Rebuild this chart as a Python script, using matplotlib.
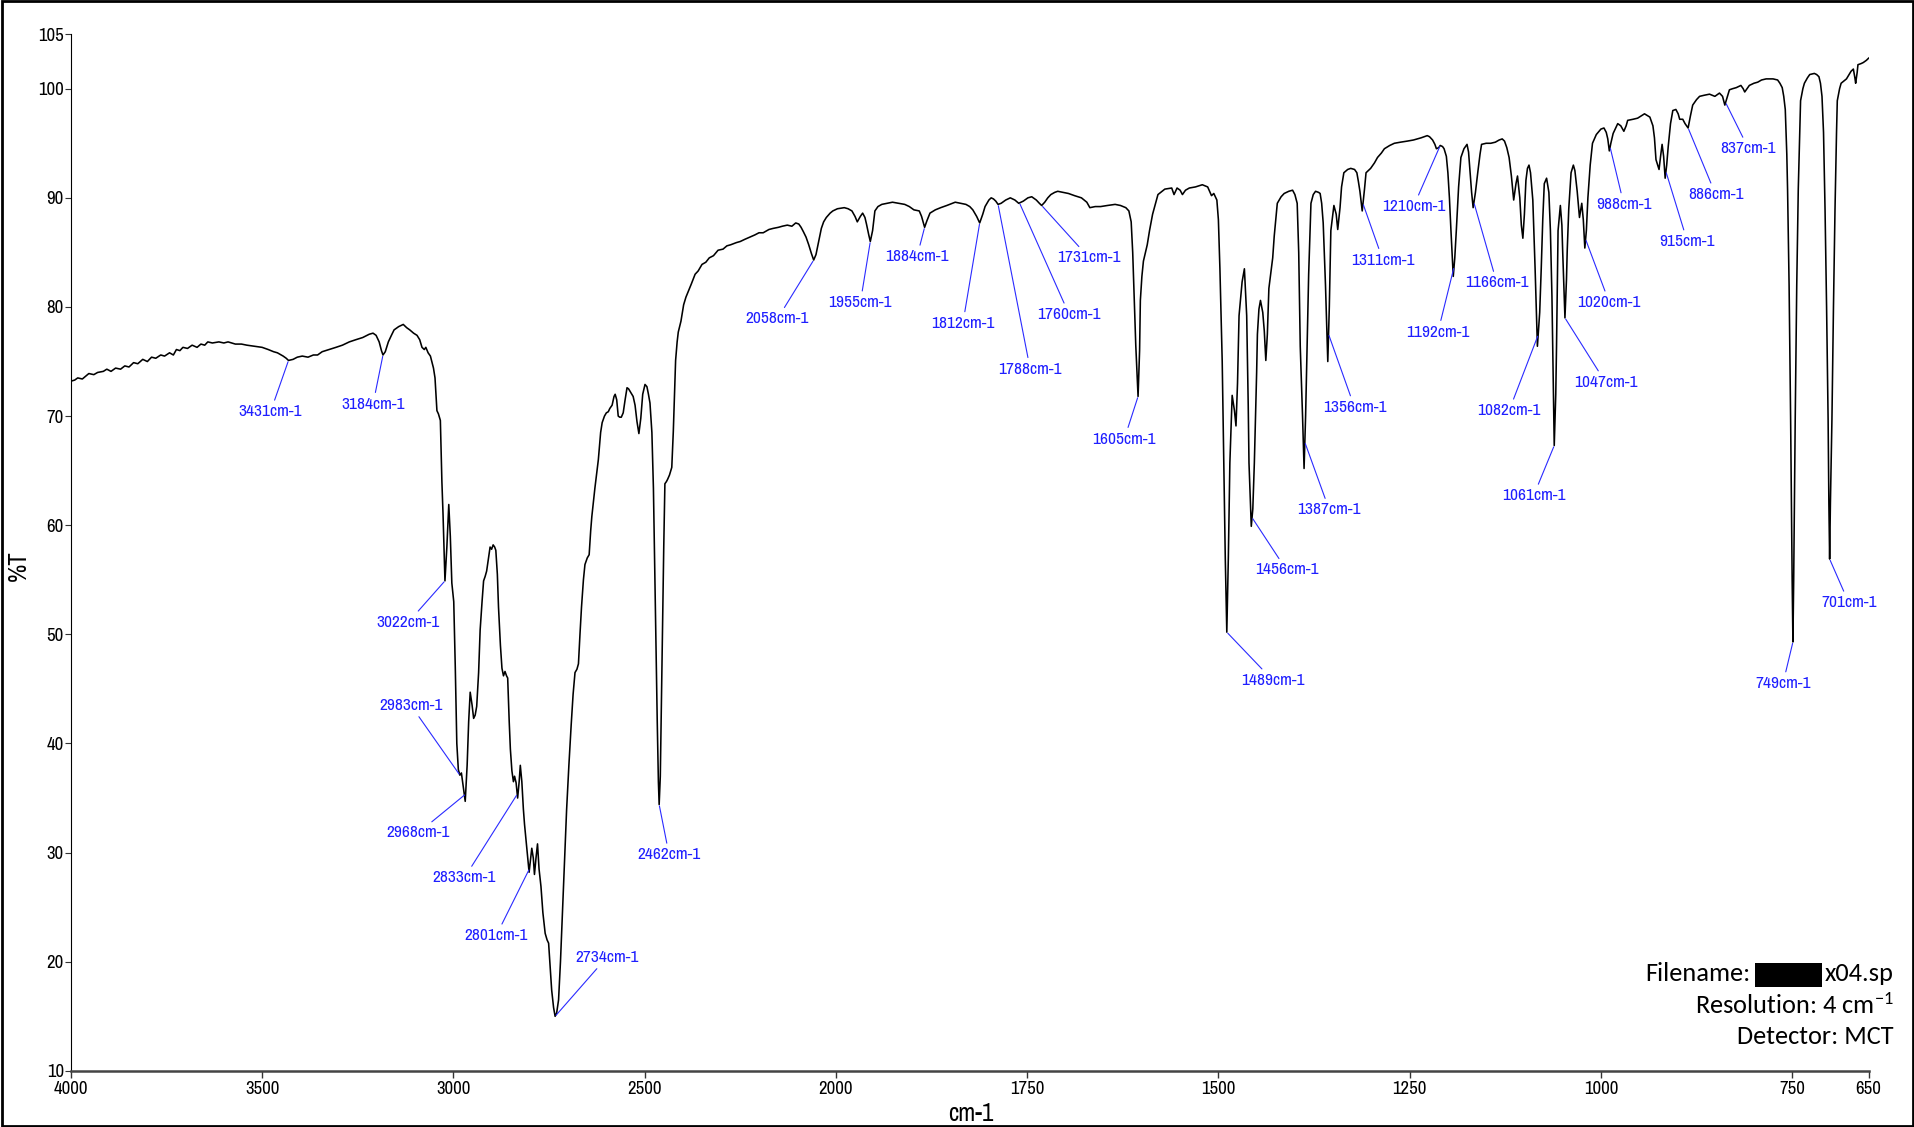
import numpy as np
import matplotlib
matplotlib.use('Agg')
import matplotlib.pyplot as plt
from matplotlib import font_manager
from matplotlib.patches import Rectangle

# ---------------- data ----------------
wavenumber = [
    4000, 3990, 3982, 3970, 3953, 3940, 3930, 3915, 3906, 3895, 3883, 3870, 3859, 3848, 3836, 3825,
    3812, 3800, 3789, 3778, 3765, 3755, 3742, 3732, 3724, 3715, 3707, 3695, 3683, 3670, 3660, 3650,
    3642, 3630, 3613, 3600, 3589, 3570, 3554, 3540, 3519, 3500, 3484, 3470, 3460, 3445, 3437, 3431,
    3419, 3408, 3395, 3380, 3366, 3355, 3343, 3325, 3307, 3290, 3272, 3255, 3237, 3220, 3210, 3202,
    3194, 3188, 3184, 3178, 3170, 3162, 3155, 3143, 3131, 3122, 3114, 3104, 3095, 3088, 3082, 3076,
    3072, 3066, 3060, 3052, 3048, 3043, 3039, 3034, 3030, 3027, 3022, 3017, 3012, 3008, 3004, 2999,
    2995, 2991, 2987, 2983, 2979, 2974, 2969, 2964, 2960, 2956, 2951, 2947, 2943, 2939, 2934, 2930,
    2925, 2921, 2917, 2913, 2908, 2904, 2900, 2896, 2892, 2889, 2885, 2882, 2877, 2873, 2869, 2865,
    2861, 2858, 2854, 2851, 2847, 2843, 2840, 2836, 2832, 2828, 2825, 2821, 2817, 2814, 2808, 2802,
    2798, 2795, 2791, 2788, 2784, 2780, 2776, 2771, 2766, 2760, 2755, 2751, 2747, 2743, 2738, 2734,
    2730, 2725, 2720, 2715, 2710, 2704, 2698, 2692, 2687, 2682, 2677, 2673, 2669, 2665, 2660, 2656,
    2650, 2645, 2641, 2638, 2630, 2621, 2615, 2611, 2605, 2600, 2595, 2591, 2585, 2580, 2577, 2573,
    2569, 2565, 2561, 2556, 2551, 2546, 2542, 2537, 2530, 2525, 2520, 2515, 2510, 2505, 2499, 2494,
    2490, 2486, 2481, 2477, 2474, 2471, 2467, 2464, 2462, 2459, 2456, 2453, 2450, 2447, 2443, 2440,
    2435, 2429, 2425, 2422, 2419, 2415, 2412, 2405, 2398, 2392, 2385, 2378, 2368, 2360, 2350, 2340,
    2331, 2320, 2308, 2295, 2285, 2275, 2260, 2250, 2238, 2225, 2212, 2201, 2190, 2175, 2164, 2150,
    2140, 2127, 2115, 2105, 2097, 2091, 2085, 2078, 2071, 2064, 2058, 2052, 2045, 2038, 2032, 2025,
    2015, 2008, 1998, 1989, 1984, 1979, 1975, 1972, 1968, 1965, 1962, 1960, 1957, 1955, 1952, 1949,
    1945, 1940, 1933, 1926, 1918, 1910, 1904, 1898, 1891, 1888, 1884, 1881, 1877, 1870, 1863, 1855,
    1844, 1837, 1830, 1825, 1821, 1816, 1812, 1808, 1805, 1800, 1797, 1794, 1791, 1788, 1784, 1778,
    1772, 1766, 1761, 1755, 1749, 1744, 1738, 1734, 1731, 1727, 1723, 1719, 1714, 1710, 1703, 1696,
    1688, 1679, 1672, 1668, 1661, 1654, 1645, 1635, 1628, 1621, 1617, 1614, 1612, 1610, 1608, 1605,
    1603, 1602, 1600, 1598, 1593, 1590, 1586, 1579, 1570, 1561, 1558, 1554, 1550, 1547, 1543, 1538,
    1530, 1521, 1514, 1509, 1506, 1502, 1500, 1498, 1495, 1493, 1491, 1489, 1487, 1485, 1482, 1479,
    1477, 1475, 1473, 1469, 1466, 1463, 1461, 1460, 1457, 1455, 1453, 1450, 1449, 1447, 1445, 1442,
    1440, 1438, 1436, 1434, 1429, 1427, 1423, 1418, 1414, 1408, 1403, 1400, 1397, 1395, 1393, 1390,
    1388, 1386, 1384, 1382, 1379, 1376, 1373, 1369, 1367, 1365, 1363, 1360, 1357, 1355, 1353, 1349,
    1346, 1344, 1341, 1339, 1336, 1331, 1327, 1322, 1319, 1317, 1315, 1312, 1309, 1307, 1304, 1301,
    1296, 1292, 1287, 1283, 1276, 1270, 1262, 1253, 1245, 1235, 1231, 1227, 1224, 1220, 1217, 1215,
    1212, 1210, 1207, 1205, 1202, 1200, 1198, 1196, 1193, 1191, 1189, 1186, 1183, 1179, 1175, 1173,
    1171, 1169, 1167, 1164, 1161, 1158, 1156, 1150, 1144, 1138, 1133, 1129, 1126, 1123, 1120, 1117,
    1114, 1111, 1109, 1106, 1104, 1102, 1100, 1098, 1096, 1094, 1092, 1089, 1086, 1083, 1080, 1078,
    1076, 1074, 1071, 1068, 1066, 1064, 1063, 1061, 1059, 1058, 1056, 1053, 1051, 1050, 1047, 1045,
    1044, 1042, 1039, 1036, 1034, 1031, 1028, 1025, 1023, 1021, 1019, 1017, 1014, 1011, 1006, 1000,
    996, 993, 991, 989, 987, 984, 978, 974, 970, 967, 965, 958, 952, 943, 936, 932,
    930, 928, 924, 922, 920, 918, 916, 914, 912, 909, 906, 902, 899, 897, 893, 890,
    886, 883, 880, 875, 871, 865, 858, 851, 845, 841, 838, 835, 832, 828, 823, 817,
    814, 812, 809, 806, 800, 795, 790, 784, 775, 769, 766, 763, 761, 759, 757, 756,
    754, 752, 750, 749, 748, 746, 744, 742, 740, 739, 736, 734, 730, 727, 721, 718,
    715, 713, 711, 709, 707, 705, 703, 702, 701, 700, 698, 696, 694, 692, 691, 688,
    686, 679, 673, 670, 668, 667, 665, 664, 660, 657, 653, 650,
]
transmittance = [
    73.2, 73.3, 73.5, 73.4, 73.9, 73.8, 74.0, 74.1, 74.3, 74.1, 74.4, 74.3, 74.6, 74.5, 74.9, 74.8,
    75.2, 75.0, 75.4, 75.3, 75.6, 75.5, 75.8, 75.6, 76.1, 76.0, 76.3, 76.2, 76.5, 76.3, 76.6, 76.5,
    76.8, 76.7, 76.8, 76.7, 76.8, 76.6, 76.6, 76.5, 76.4, 76.3, 76.1, 75.9, 75.8, 75.5, 75.3, 75.1,
    75.2, 75.4, 75.5, 75.4, 75.6, 75.6, 75.9, 76.1, 76.3, 76.5, 76.8, 77.0, 77.2, 77.5, 77.6, 77.4,
    76.8, 76.0, 75.6, 75.9, 76.8, 77.4, 77.9, 78.2, 78.4, 78.1, 77.9, 77.6, 77.4, 77.0, 76.3, 76.1,
    76.3, 75.8, 75.5, 74.4, 73.5, 70.5, 70.2, 69.6, 64.0, 61.0, 54.9, 58.0, 61.9, 59.0, 54.7, 53.0,
    47.0, 40.0, 37.6, 37.1, 37.3, 36.0, 34.7, 38.0, 42.0, 44.7, 43.5, 42.3, 42.6, 43.4, 46.5, 50.4,
    53.0, 54.9, 55.3, 55.8, 57.0, 58.0, 57.8, 58.2, 58.0, 57.7, 55.5, 52.5, 49.0, 46.9, 46.2, 46.6,
    46.2, 46.0, 42.0, 39.5, 37.5, 36.5, 37.0, 36.4, 35.0, 36.5, 38.0, 36.5, 34.0, 32.6, 30.4, 28.2,
    29.5, 30.4, 29.5, 28.0, 29.5, 30.8, 28.5, 26.9, 24.5, 22.6, 22.0, 21.7, 19.5, 17.4, 15.8, 15.0,
    15.3, 16.5, 20.0, 24.3, 28.5, 33.9, 38.0, 41.7, 44.5, 46.5, 46.8, 47.3, 50.0, 52.5, 55.0, 56.4,
    57.0, 57.3, 59.5, 60.8, 63.4, 66.0, 68.5, 69.4, 70.0, 70.3, 70.4, 70.7, 71.0, 71.8, 72.0, 71.5,
    70.0, 69.9, 69.9, 70.3, 71.5, 72.6, 72.5, 72.2, 71.8, 71.0, 69.5, 68.4, 69.8, 72.0, 72.9, 72.7,
    72.0, 71.2, 68.5, 63.4, 57.0, 50.4, 42.0, 36.5, 34.4, 37.0, 44.0, 50.4, 58.0, 63.8, 64.0, 64.2,
    64.6, 65.3, 68.6, 72.0, 75.1, 76.8, 77.7, 78.7, 80.2, 80.9, 81.5, 82.1, 83.0, 83.3, 83.9, 84.1,
    84.5, 84.7, 85.2, 85.3, 85.6, 85.7, 85.9, 86.0, 86.2, 86.4, 86.6, 86.8, 86.8, 87.1, 87.2, 87.3,
    87.4, 87.5, 87.4, 87.7, 87.6, 87.3, 86.9, 86.4, 85.7, 84.9, 84.3, 84.8, 86.0, 87.2, 87.8, 88.2,
    88.6, 88.8, 89.0, 89.1, 89.0, 88.8, 88.3, 87.8, 88.3, 88.6, 88.2, 87.6, 86.6, 86.0, 87.0, 88.8,
    89.2, 89.4, 89.5, 89.6, 89.5, 89.4, 89.2, 88.9, 88.8, 88.3, 87.3, 87.9, 88.6, 88.9, 89.1, 89.3,
    89.6, 89.5, 89.4, 89.2, 88.9, 88.3, 87.7, 88.5, 89.2, 89.8, 90.0, 89.9, 89.7, 89.4, 89.5, 89.8,
    90.0, 89.8, 89.5, 89.7, 90.0, 90.1, 89.8, 89.5, 89.3, 89.6, 90.0, 90.3, 90.5, 90.6, 90.5, 90.4,
    90.2, 90.0, 89.6, 89.1, 89.2, 89.2, 89.3, 89.4, 89.3, 89.1, 88.8, 87.8, 85.0, 80.6, 76.5, 71.8,
    76.0, 80.6, 82.8, 84.2, 85.7, 87.0, 88.5, 90.3, 90.8, 90.9, 90.3, 90.9, 90.7, 90.3, 90.7, 90.9,
    91.0, 91.2, 91.0, 90.2, 90.4, 89.8, 88.0, 83.5, 75.0, 65.7, 57.0, 50.2, 57.0, 65.7, 71.9, 70.5,
    69.1, 73.0, 79.2, 82.3, 83.5, 79.2, 71.0, 65.7, 59.9, 61.5, 65.7, 74.0, 77.5, 79.8, 80.6, 79.5,
    77.8, 75.1, 77.5, 81.7, 84.5, 86.5, 89.5, 90.1, 90.4, 90.6, 90.7, 90.3, 89.5, 85.0, 76.4, 70.0,
    65.2, 70.0, 76.4, 83.0, 89.5, 90.3, 90.6, 90.5, 90.4, 89.5, 87.7, 82.0, 75.0, 80.0, 87.0, 89.3,
    88.5, 87.1, 89.1, 91.0, 92.3, 92.6, 92.7, 92.6, 92.3, 91.5, 90.6, 88.8, 90.8, 92.3, 92.5, 92.7,
    93.2, 93.7, 94.1, 94.5, 94.8, 95.0, 95.1, 95.2, 95.3, 95.5, 95.6, 95.7, 95.6, 95.3, 94.9, 94.5,
    94.6, 94.8, 94.7, 94.5, 93.8, 92.3, 90.0, 87.0, 82.8, 84.5, 87.0, 91.0, 93.7, 94.5, 94.9, 94.2,
    92.3, 90.5, 89.1, 90.5, 92.3, 94.0, 94.9, 95.0, 95.0, 95.1, 95.3, 95.4, 95.2, 94.6, 93.7, 92.0,
    89.8, 91.3, 92.0, 90.0, 87.5, 86.3, 88.5, 91.6, 92.7, 93.0, 92.3, 89.8, 83.5, 76.4, 79.5, 83.5,
    88.0, 91.3, 91.8, 90.5, 87.0, 81.0, 76.4, 67.3, 72.0, 76.4, 87.0, 89.3, 87.5, 85.2, 79.0, 82.5,
    85.2, 89.0, 92.3, 93.0, 92.5, 90.6, 88.2, 89.5, 88.0, 85.4, 87.0, 90.0, 93.0, 95.0, 95.8, 96.3,
    96.4, 96.0, 95.4, 94.3, 95.0, 95.9, 96.8, 96.6, 96.1, 96.6, 97.1, 97.2, 97.3, 97.7, 97.4, 96.6,
    95.5, 93.5, 92.6, 93.8, 94.9, 93.8, 91.8, 93.0, 94.7, 96.8, 98.0, 98.1, 97.7, 97.2, 97.2, 96.8,
    96.4, 97.5, 98.5, 99.0, 99.3, 99.4, 99.5, 99.3, 99.6, 99.3, 98.5, 99.2, 99.9, 100.0, 100.1, 100.3,
    100.0, 99.7, 100.0, 100.3, 100.5, 100.6, 100.8, 100.9, 100.9, 100.8, 100.5, 100.1, 99.3, 98.1, 94.0, 90.8,
    82.0, 69.7, 55.0, 49.3, 55.0, 69.7, 82.0, 90.8, 96.0, 98.9, 100.0, 100.5, 101.0, 101.3, 101.4, 101.3,
    101.1, 100.5, 99.3, 96.0, 88.9, 80.0, 69.7, 62.0, 56.9, 62.0, 69.7, 80.0, 88.9, 96.0, 98.9, 100.0,
    100.5, 100.9, 101.6, 101.8, 101.0, 100.5, 101.5, 102.2, 102.3, 102.4, 102.6, 102.8,
]

peak_labels = [3431, 3184, 3022, 2983, 2968, 2833, 2801, 2734, 2462, 2058, 1955, 1884, 1812,
               1788, 1760, 1731, 1605, 1489, 1456, 1387, 1356, 1311, 1210, 1192, 1166, 1082,
               1061, 1047, 1020, 988, 915, 886, 837, 749, 701]
label_text_wn = [3478, 3210, 3118, 3111, 3092, 2971, 2888, 2599, 2436, 2153, 1968, 1894, 1834,
                 1746, 1695, 1669, 1623, 1429, 1411, 1355, 1322, 1285, 1245, 1213, 1136, 1120,
                 1088, 994, 989, 970, 887, 850, 807, 762, 676]
label_text_t = [70.4, 71.1, 51.1, 43.5, 31.8, 27.7, 22.4, 20.4, 29.8, 78.9, 80.4, 84.6, 78.5,
                74.3, 79.3, 84.5, 67.9, 45.8, 55.9, 61.4, 70.8, 84.3, 89.2, 77.7, 82.2, 70.5,
                62.7, 73.1, 80.4, 89.4, 86.0, 90.3, 94.5, 45.5, 52.9]

x_ticks = [4000, 3500, 3000, 2500, 2000, 1750, 1500, 1250, 1000, 750, 650]
y_ticks = [10, 20, 30, 40, 50, 60, 70, 80, 90, 100, 105]

# ---------------- fonts ----------------
avail = {f.name for f in font_manager.fontManager.ttflist}

def pick(cands, default):
    for c in cands:
        if c in avail:
            return c
    return default

narrow = pick(['Liberation Sans Narrow', 'Arial Narrow', 'Archivo Narrow', 'Roboto Condensed'],
              'Liberation Sans')
calib = pick(['Carlito', 'Calibri', 'Lato'], 'DejaVu Sans')
plt.rcParams['font.family'] = [narrow, 'DejaVu Sans']
plt.rcParams['mathtext.fontset'] = 'custom'
plt.rcParams['mathtext.rm'] = calib
plt.rcParams['mathtext.it'] = calib

# ---------------- scale: 4000-2000 at half scale ----------------
def fwd(x):
    x = np.asarray(x, dtype=float)
    return np.where(x <= 2000, x, 2000 + (x - 2000) * 0.5)

def inv(p):
    p = np.asarray(p, dtype=float)
    return np.where(p <= 2000, p, 2000 + (p - 2000) * 2.0)

fig = plt.figure(figsize=(19.15, 11.27), dpi=100)
ax = fig.add_axes([0.0370, 0.0498, 0.9388, 0.9199])
ax.set_xscale('function', functions=(fwd, inv))

ax.plot(wavenumber, transmittance, color='black', lw=1.15, zorder=3)
ax.set_xlim(4000, 650)
ax.set_ylim(10, 105)

ax.set_xticks(x_ticks)
ax.set_xticklabels([str(v) for v in x_ticks])
ax.set_yticks(y_ticks)
ax.set_yticklabels([str(v) for v in y_ticks])
ax.minorticks_off()
ax.tick_params(axis='both', direction='out', labelsize=13.5, color='#333333')
ax.tick_params(axis='x', length=5, width=1, pad=2)
ax.tick_params(axis='y', length=4, width=0.8, pad=1)

for s in ['top', 'right']:
    ax.spines[s].set_visible(False)
ax.spines['left'].set_linewidth(0.8)
ax.spines['bottom'].set_linewidth(1.8)
ax.spines['bottom'].set_color('#444444')

# peak labels
wn_inc = np.array(wavenumber[::-1], dtype=float)
t_inc = np.array(transmittance[::-1], dtype=float)
blue = '#1f1fff'
for pk, tx, ty in zip(peak_labels, label_text_wn, label_text_t):
    pt = float(np.interp(pk, wn_inc, t_inc))
    ax.annotate(f'{pk}cm-1', xy=(pk, pt), xytext=(tx, ty),
                ha='center', va='center', fontsize=12.5, color=blue,
                annotation_clip=False, zorder=4,
                arrowprops=dict(arrowstyle='-', color='#2a2aff', lw=0.8,
                                shrinkA=1, shrinkB=1))

# axis labels
fig.text(0.0095, 0.498, '%T', rotation=90, fontsize=18, ha='center', va='center')
fig.text(0.507, 0.012, 'cm-1', fontsize=18, ha='center', va='center')

# info block
fs_info = 19
fig.text(0.989, 0.1365, 'x04.sp', family=calib, fontsize=fs_info, ha='right', va='center')
fig.text(0.914, 0.1365, 'Filename:', family=calib, fontsize=fs_info, ha='right', va='center')
fig.patches.append(Rectangle((0.9165, 0.1246), 0.035, 0.0206, transform=fig.transFigure,
                             facecolor='black', edgecolor='none', figure=fig))
fig.text(0.989, 0.1083, r'Resolution: 4 cm$^{-1}$', family=calib, fontsize=fs_info, ha='right', va='center')
fig.text(0.989, 0.0802, 'Detector: MCT', family=calib, fontsize=fs_info, ha='right', va='center')

# outer border
fig.patches.append(Rectangle((0.0008, 0.0012), 0.9984, 0.9976, transform=fig.transFigure,
                             facecolor='none', edgecolor='black', lw=2, figure=fig))

fig.savefig('out.png', dpi=100)
